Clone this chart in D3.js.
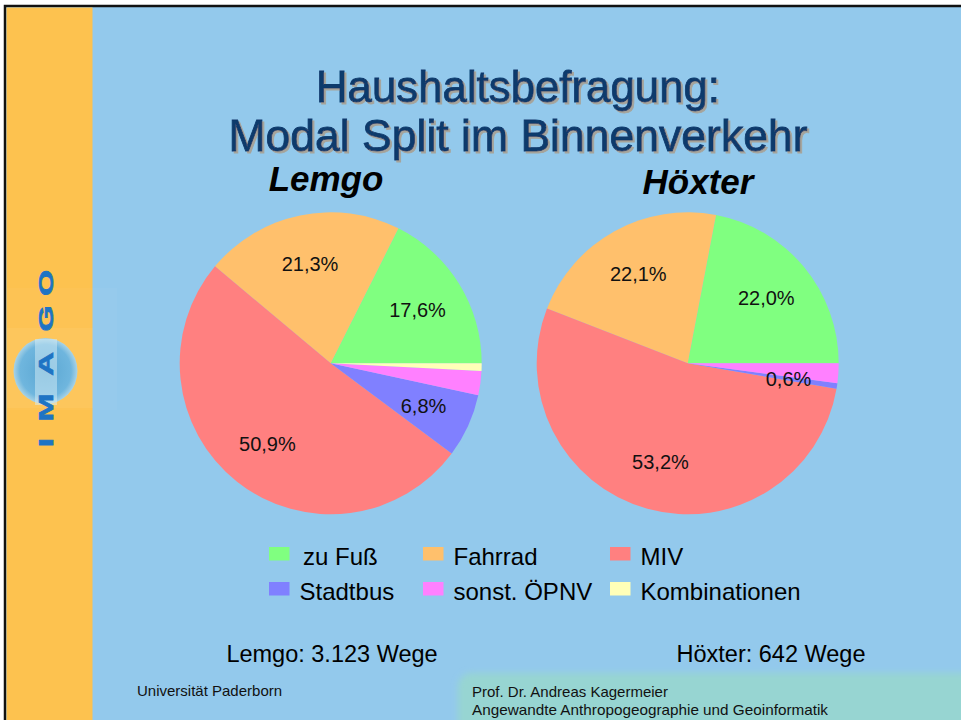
<!DOCTYPE html>
<html>
<head>
<meta charset="utf-8">
<script src="https://cdn.jsdelivr.net/npm/d3@7"></script>
<style>
  html, body { margin: 0; padding: 0; background: #fff; }
  svg { display: block; font-family: "Liberation Sans", Arial, sans-serif; }
</style>
</head>
<body>
<svg id="chart" width="961" height="720"></svg>
<script>
// Daten: Modal Split im Binnenverkehr (in %)
const categories = ["zu Fuß", "Fahrrad", "MIV", "Stadtbus", "sonst. ÖPNV", "Kombinationen"];
const colors = ["#80FF80", "#FFC06C", "#FF8080", "#8080FF", "#FF80FF", "#FFFFB8"];
const lemgo = [17.6, 21.3, 50.9, 6.8, 2.6, 0.8];
const hoexter = [22.0, 22.1, 53.2, 0.6, 2.1, 0.0];
// nur die ersten vier Kategorien haben eine Beschriftung
const labelShown = [true, true, true, true, false, false];
const titleLines = ["Haushaltsbefragung:", "Modal Split im Binnenverkehr"];
const places = ["Lemgo", "Höxter"];
const tripCounts = ["Lemgo: 3.123 Wege", "Höxter: 642 Wege"];

const svg = d3.select("#chart");
const W = 961, H = 720;
const defs = svg.append("defs");

// Hintergrund + Rahmen
svg.append("rect").attr("width", W).attr("height", H).attr("fill", "#fff");
svg.append("rect").attr("x", 5).attr("y", 6).attr("width", W).attr("height", H)
  .attr("fill", "#93C9EC").attr("stroke", "#111").attr("stroke-width", 2.5);
svg.append("rect").attr("x", 6.5).attr("y", 7.5).attr("width", 86).attr("height", H)
  .attr("fill", "#FDC24F");

// helle Fläche hinter dem Logo
svg.append("rect").attr("x", 7).attr("y", 288).attr("width", 110).attr("height", 122)
  .attr("fill", "#fff").attr("opacity", 0.03);
svg.append("rect").attr("x", 7).attr("y", 328).attr("width", 86).attr("height", 80)
  .attr("fill", "#fff").attr("opacity", 0.05);

// Logo IMAGO
const rg = defs.append("radialGradient").attr("id", "globe");
rg.append("stop").attr("offset", "0%").attr("stop-color", "#5AA6D2");
rg.append("stop").attr("offset", "80%").attr("stop-color", "#6FB6DE");
rg.append("stop").attr("offset", "100%").attr("stop-color", "#A9D3E6");
svg.append("ellipse").attr("cx", 45.5).attr("cy", 371).attr("rx", 32).attr("ry", 33)
  .attr("fill", "url(#globe)");
svg.append("rect").attr("x", 35).attr("y", 339).attr("width", 22).attr("height", 66)
  .attr("fill", "#D8EEF6").attr("opacity", 0.5);
const logoLetters = ["I", "M", "A", "G", "O"];
const logoY = [442.5, 407.5, 364, 318.5, 283];
logoLetters.forEach((l, i) => {
  svg.append("text")
    .attr("transform", `translate(53,${logoY[i]}) rotate(-90) scale(1.6,1)`)
    .attr("text-anchor", "middle")
    .attr("font-size", 21).attr("font-weight", "bold")
    .attr("fill", "#1E74C4").attr("stroke", "#1E74C4").attr("stroke-width", 0.6)
    .text(l);
});

// Fußzeile-Panel
const blur = defs.append("filter").attr("id", "soft");
blur.append("feGaussianBlur").attr("stdDeviation", 3);
svg.append("rect").attr("x", 458).attr("y", 673).attr("width", 520).attr("height", 70)
  .attr("rx", 14).attr("fill", "#97D5D2").attr("filter", "url(#soft)");

// Titel mit Schatten
const shadow = defs.append("filter").attr("id", "shadow")
  .attr("x", "-5%").attr("y", "-20%").attr("width", "110%").attr("height", "140%");
shadow.append("feDropShadow").attr("dx", 2).attr("dy", 2).attr("stdDeviation", 0.3)
  .attr("flood-color", "#A6A39A").attr("flood-opacity", 1);
const titleY = [102, 151];
const titleLen = [404, 579];
titleLines.forEach((t, i) => {
  svg.append("text")
    .attr("x", 518).attr("y", titleY[i])
    .attr("text-anchor", "middle")
    .attr("textLength", titleLen[i]).attr("lengthAdjust", "spacingAndGlyphs")
    .attr("font-size", 44)
    .attr("fill", "#0F3A6C").attr("stroke", "#0F3A6C").attr("stroke-width", 0.8)
    .attr("filter", "url(#shadow)")
    .text(t);
});

// Kreisdiagramme
const centers = [[330.7, 363.3], [687.7, 363.3]];
const R = 151;
const pie = d3.pie().sort(null).startAngle(Math.PI / 2).endAngle(Math.PI / 2 - 2 * Math.PI);
const arc = d3.arc().innerRadius(0).outerRadius(R);
const labelArc = d3.arc().innerRadius(102).outerRadius(102);
const de = d3.formatLocale({decimal: ",", thousands: ".", grouping: [3], currency: ["", "€"]});
const fmt = v => de.format(".1f")(v) + "%";

[lemgo, hoexter].forEach((vals, p) => {
  const g = svg.append("g").attr("transform", `translate(${centers[p][0]},${centers[p][1]})`);
  const arcs = pie(vals);
  g.selectAll("path").data(arcs).join("path")
    .attr("d", arc)
    .attr("fill", (d, i) => colors[i]);
  g.selectAll("text").data(arcs.filter((d, i) => labelShown[i])).join("text")
    .attr("transform", d => `translate(${labelArc.centroid(d)})`)
    .attr("text-anchor", "middle").attr("dy", "0.36em")
    .attr("font-size", 20).attr("fill", "#111")
    .text(d => fmt(d.data));
});

// Ortsnamen
const placeX = [326, 698];
const placeY = [191, 194];
places.forEach((t, i) => {
  svg.append("text").attr("x", placeX[i]).attr("y", placeY[i])
    .attr("text-anchor", "middle")
    .attr("font-size", 35).attr("font-weight", "bold").attr("font-style", "italic")
    .attr("fill", "#000").text(t);
});

// Legende
const legX = [269, 423, 610];
const legY = [547, 582];
const lg = svg.append("g");
categories.forEach((c, i) => {
  const col = i % 3, row = Math.floor(i / 3);
  lg.append("rect").attr("x", legX[col]).attr("y", legY[row])
    .attr("width", 20.5).attr("height", 13.5).attr("fill", colors[i]);
  lg.append("text").attr("x", legX[col] + (i === 0 ? 34 : 30.5)).attr("y", legY[row] + 17.5)
    .attr("font-size", 24).attr("fill", "#000").text(c);
});

// Anzahl Wege
const countX = [332, 771];
tripCounts.forEach((t, i) => {
  svg.append("text").attr("x", countX[i]).attr("y", 662)
    .attr("text-anchor", "middle").attr("font-size", 23.5).attr("fill", "#000").text(t);
});

// Fußzeile
svg.append("text").attr("x", 137).attr("y", 696).attr("font-size", 15).attr("fill", "#111")
  .text("Universität Paderborn");
svg.append("text").attr("x", 472).attr("y", 697).attr("font-size", 15).attr("fill", "#111")
  .text("Prof. Dr. Andreas Kagermeier");
svg.append("text").attr("x", 472).attr("y", 715).attr("font-size", 15).attr("fill", "#111")
  .attr("textLength", 356).attr("lengthAdjust", "spacingAndGlyphs")
  .text("Angewandte Anthropogeographie und Geoinformatik");
</script>
</body>
</html>
